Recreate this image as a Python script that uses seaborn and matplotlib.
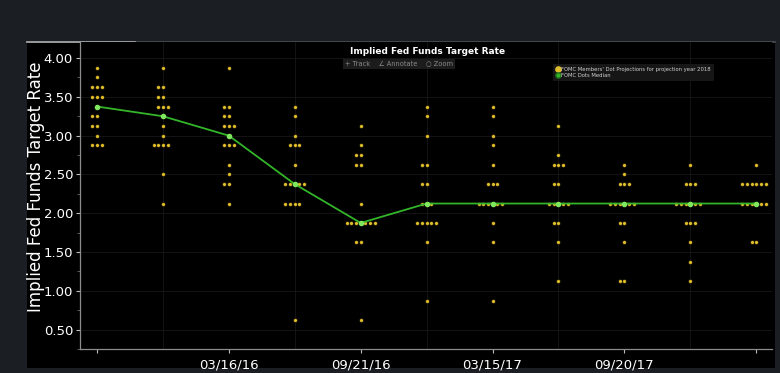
import numpy as np
import pandas as pd
import seaborn as sns
import matplotlib.pyplot as plt
from matplotlib.lines import Line2D
from matplotlib.patches import Rectangle

# FOMC meetings (x categories)
meeting_dates = ["09/17/15", "12/16/15", "03/16/16", "06/15/16", "09/21/16", "12/14/16",
                 "03/15/17", "06/14/17", "09/20/17", "12/13/17", "03/21/18"]
tick_dates = ["03/16/16", "09/21/16", "03/15/17", "09/20/17"]

# members' dots for projection year 2018, one list per meeting
dots_sep15 = [3.875, 3.75, 3.625, 3.625, 3.625, 3.5, 3.5, 3.5, 3.375, 3.25, 3.25,
              3.125, 3.125, 3.0, 2.875, 2.875, 2.875]
dots_dec15 = [3.875, 3.625, 3.625, 3.5, 3.5, 3.375, 3.375, 3.375, 3.25, 3.125, 3.0,
              2.875, 2.875, 2.875, 2.875, 2.5, 2.125]
dots_mar16 = [3.875, 3.375, 3.375, 3.25, 3.25, 3.125, 3.125, 3.125, 3.0, 2.875, 2.875,
              2.875, 2.625, 2.5, 2.375, 2.375, 2.125]
dots_jun16 = [3.375, 3.25, 3.0, 2.875, 2.875, 2.875, 2.625, 2.375, 2.375, 2.375, 2.375,
              2.375, 2.125, 2.125, 2.125, 2.125, 0.625]
dots_sep16 = [3.125, 2.875, 2.75, 2.75, 2.625, 2.625, 2.125, 1.875, 1.875, 1.875, 1.875,
              1.875, 1.875, 1.875, 1.625, 1.625, 0.625]
dots_dec16 = [3.375, 3.25, 3.0, 2.625, 2.625, 2.375, 2.375, 2.125, 2.125, 2.125, 1.875,
              1.875, 1.875, 1.875, 1.875, 1.625, 0.875]
dots_mar17 = [3.375, 3.25, 3.0, 2.875, 2.625, 2.375, 2.375, 2.375, 2.125, 2.125, 2.125,
              2.125, 2.125, 2.125, 1.875, 1.625, 0.875]
dots_jun17 = [3.125, 2.75, 2.625, 2.625, 2.625, 2.375, 2.375, 2.125, 2.125, 2.125, 2.125,
              2.125, 1.875, 1.875, 1.625, 1.125]
dots_sep17 = [2.625, 2.5, 2.375, 2.375, 2.375, 2.125, 2.125, 2.125, 2.125, 2.125, 2.125,
              1.875, 1.875, 1.625, 1.125, 1.125]
dots_dec17 = [2.625, 2.375, 2.375, 2.375, 2.125, 2.125, 2.125, 2.125, 2.125, 2.125,
              1.875, 1.875, 1.875, 1.625, 1.375, 1.125]
dots_mar18 = [2.625, 2.375, 2.375, 2.375, 2.375, 2.375, 2.375, 2.125, 2.125, 2.125,
              2.125, 2.125, 2.125, 1.625, 1.625]

median_rate = [3.375, 3.25, 3.0, 2.375, 1.875, 2.125, 2.125, 2.125, 2.125, 2.125, 2.125]

all_dots = [dots_sep15, dots_dec15, dots_mar16, dots_jun16, dots_sep16, dots_dec16,
            dots_mar17, dots_jun17, dots_sep17, dots_dec17, dots_mar18]

yellow = '#e0bd2a'
green = '#33b52a'

df = pd.DataFrame([(d, v) for d, vals in zip(meeting_dates, all_dots) for v in vals],
                  columns=['meeting', 'rate'])

W, H = 780, 373
fig = plt.figure(figsize=(W / 100, H / 100), dpi=100, facecolor='#1b1e23')
# black chart panel, behind the axes
fig.patches.append(Rectangle((27 / W, 1 - 368 / H), (775 - 27) / W, (368 - 42) / H,
                             transform=fig.transFigure, facecolor='black', edgecolor='none',
                             zorder=-5))
fig.lines.append(Line2D([27 / W, 775 / W], [1 - 42 / H] * 2, transform=fig.transFigure,
                        color='#4a4d52', lw=1.2, zorder=-4))
fig.lines.append(Line2D([27 / W, 135 / W], [1 - 42 / H] * 2, transform=fig.transFigure,
                        color='#a8a8a8', lw=1.2, zorder=-4))

ax = fig.add_axes([80 / W, 1 - 349 / H, (772 - 80) / W, (349 - 42) / H])
ax.set_facecolor('black')

sns.swarmplot(data=df, x='meeting', y='rate', order=meeting_dates, color=yellow,
              size=2.8, linewidth=0.4, edgecolor='black', ax=ax, zorder=2)
sns.pointplot(x=meeting_dates, y=median_rate, order=meeting_dates, color=green,
              markers='o', markersize=3, linewidth=1.3, errorbar=None, ax=ax,
              markerfacecolor='#7fe85e', markeredgecolor='#7fe85e', zorder=3)

ax.set_xlim(-0.258, 10.24)
ax.set_ylim(0.304, 4.207)

ax.set_xticks(range(len(meeting_dates)), minor=True)
major_pos = [0] + [meeting_dates.index(d) for d in tick_dates] + [len(meeting_dates) - 1]
ax.set_xticks(major_pos)
ax.set_xticklabels([meeting_dates[p] if meeting_dates[p] in tick_dates else '' for p in major_pos])
ax.set_yticks(np.arange(0.5, 4.01, 0.5))
ax.set_yticklabels([f'{v:.2f}' for v in np.arange(0.5, 4.01, 0.5)])
ax.set_yticks(np.arange(0.25, 4.2, 0.25), minor=True)

ax.tick_params(axis='both', which='major', colors='#bdbdbd', labelcolor='white',
               labelsize=9.5, length=3, width=0.8, pad=2)
ax.tick_params(axis='x', which='minor', length=0)
ax.tick_params(axis='y', which='minor', colors='#6a6a6a', length=2, width=0.6)
ax.tick_params(axis='x', which='major', pad=4)

ax.grid(True, which='major', axis='y', color='#171717', lw=0.6)
ax.grid(True, which='minor', axis='x', color='#171717', lw=0.6)
ax.set_axisbelow(True)

for side in ['top', 'right']:
    ax.spines[side].set_visible(False)
for side in ['left', 'bottom']:
    ax.spines[side].set_color('#8c8c8c')
    ax.spines[side].set_linewidth(0.9)

ax.set_xlabel('')
ax.set_ylabel('Implied Fed Funds Target Rate', color='white', fontsize=12)
ax.yaxis.set_label_coords(-0.05, 0.53)

fig.text(428 / W, 1 - 52 / H, 'Implied Fed Funds Target Rate', color='white',
         fontsize=6.5, fontweight='bold', ha='center', va='center')
fig.text(399 / W, 1 - 64 / H, '+ Track    \u2220 Annotate    \u25cb Zoom', color='#8a8a8a',
         fontsize=4.8, ha='center', va='center',
         bbox=dict(facecolor='#1c1c1c', edgecolor='none', pad=1.5))

handles = [Line2D([], [], marker='o', ls='', markersize=3.8, markerfacecolor=yellow, markeredgecolor=yellow),
           Line2D([], [], marker='o', ls='', markersize=3.8, markerfacecolor=green, markeredgecolor='#1f6e1a')]
labels = ["FOMC Members' Dot Projections for projection year 2018", 'FOMC Dots Median']
leg = ax.legend(handles, labels, loc='upper left', bbox_to_anchor=(553 / W, 1 - 64 / H),
                bbox_transform=fig.transFigure, fontsize=3.8, frameon=True,
                facecolor='#161616', edgecolor='none', framealpha=1, labelcolor='#d0d0d0',
                handletextpad=0.3, borderpad=0.5, labelspacing=0.3, handlelength=0.8,
                borderaxespad=0)

fig.savefig('out.png', dpi=100, facecolor=fig.get_facecolor())
